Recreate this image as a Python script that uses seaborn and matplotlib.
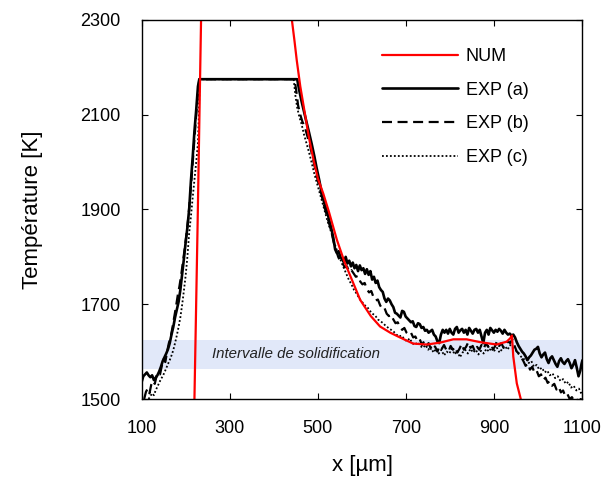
import matplotlib
matplotlib.use("Agg")
import matplotlib.pyplot as plt
import seaborn as sns

# --- data ---
# numerical curve, two branches (both leave the frame at the top)
num_left_x = [220, 227, 235]
num_left_T = [1500, 1860, 2300]
num_right_x = [441, 447, 452, 460, 470, 480, 490, 500, 512, 525, 543, 560, 580, 596,
               620, 641, 664, 686, 716, 747, 777, 807, 837, 868, 905, 928, 936, 940,
               943, 951, 960]
num_right_T = [2300, 2255, 2215, 2160, 2105, 2050, 2005, 1965, 1934, 1895, 1836, 1790,
               1745, 1709, 1675, 1653, 1640, 1630, 1617, 1615, 1619, 1626, 1626, 1620,
               1615, 1621, 1628, 1634, 1590, 1533, 1500]

# EXP (a)
exp_a_x = [100, 104, 108, 112, 116, 120, 124, 128, 132, 136, 140, 144, 148, 152, 156,
           160, 164, 168, 172, 176, 180, 184, 188, 192, 196, 200, 204, 208, 212, 216,
           220, 224, 228, 231,
           453, 458, 463, 468, 474, 480, 486, 492, 497, 503, 508, 514, 520, 525, 530,
           535, 539, 543, 547, 551, 555, 559, 563, 567, 571, 575, 579, 583, 587, 591,
           595, 599, 603, 607, 611, 615, 619, 623, 627, 631, 635, 639, 643, 647, 651,
           655, 659, 663, 667, 671, 675, 679, 683, 687, 691, 695, 699, 703, 707, 711,
           715, 719, 723, 727, 731, 735, 739, 743, 747, 751, 755, 759, 763, 767, 771,
           775, 779, 783, 787, 791, 795, 799, 803, 807, 811, 815, 819, 823, 827, 831,
           835, 839, 843, 847, 851, 855, 859, 863, 867, 871, 875, 879, 883, 887, 891,
           895, 899, 903, 907, 911, 915, 919, 923, 927, 931, 935, 939, 943, 947, 951,
           955, 959, 963, 967, 971, 975, 979, 983, 987, 991, 995, 999, 1003, 1007, 1011,
           1015, 1019, 1023, 1027, 1031, 1035, 1039, 1043, 1047, 1051, 1055, 1059, 1063,
           1067, 1071, 1075, 1079, 1083, 1087, 1091, 1095, 1098, 1100]
exp_a_T = [1535, 1548, 1552, 1556, 1550, 1546, 1550, 1540, 1545, 1550, 1558, 1568, 1580,
           1588, 1596, 1605, 1618, 1636, 1652, 1672, 1688, 1705, 1730, 1762, 1795, 1830,
           1862, 1900, 1960, 2010, 2065, 2110, 2160, 2175,
           2175, 2150, 2128, 2108, 2085, 2062, 2038, 2012, 1988, 1962, 1938, 1915, 1898,
           1880, 1862, 1840, 1816, 1808, 1812, 1800, 1795, 1788, 1800, 1786, 1792, 1780,
           1788, 1776, 1783, 1770, 1782, 1772, 1776, 1764, 1774, 1762, 1770, 1752, 1758,
           1745, 1750, 1736, 1730, 1726, 1712, 1705, 1712, 1708, 1700, 1694, 1682, 1680,
           1676, 1672, 1686, 1684, 1674, 1670, 1666, 1662, 1664, 1654, 1652, 1660, 1658,
           1650, 1652, 1644, 1646, 1640, 1643, 1646, 1636, 1632, 1622, 1618, 1636, 1646,
           1640, 1646, 1638, 1648, 1640, 1636, 1648, 1652, 1640, 1645, 1648, 1640, 1646,
           1636, 1650, 1644, 1638, 1646, 1648, 1640, 1646, 1632, 1618, 1640, 1646, 1636,
           1650, 1645, 1640, 1646, 1642, 1648, 1644, 1638, 1646, 1640, 1636, 1638, 1634,
           1636, 1630, 1620, 1612, 1606, 1600, 1596, 1590, 1582, 1588, 1592, 1598, 1604,
           1606, 1610, 1596, 1588, 1594, 1598, 1584, 1576, 1586, 1590, 1582, 1574, 1568,
           1580, 1586, 1578, 1574, 1580, 1584, 1576, 1565, 1572, 1582, 1566, 1548, 1560,
           1575, 1582]

# EXP (b)
exp_b_x = [106, 110, 114, 118, 122, 126, 130, 134, 138, 142, 146, 150, 154, 158, 162,
           166, 170, 174, 178, 182, 186, 190, 194, 198, 202, 206, 210, 214, 218, 222,
           226, 231,
           447, 451, 455, 460, 465, 470, 476, 482, 488, 494, 500, 506, 512, 518, 524,
           530, 536, 541, 546, 551, 556, 561, 566, 571, 576, 581, 586, 591, 596, 601,
           606, 611, 616, 621, 626, 631, 636, 641, 646, 651, 656, 661, 666, 671, 676,
           681, 686, 691, 696, 701, 706, 711, 716, 721, 726, 731, 736, 741, 746, 751,
           756, 761, 766, 771, 776, 781, 786, 791, 796, 801, 806, 811, 816, 821, 826,
           831, 836, 841, 846, 851, 856, 861, 866, 871, 876, 881, 886, 891, 896, 901,
           906, 911, 916, 921, 926, 931, 936, 941, 946, 951, 956, 961, 966, 971, 976,
           981, 986, 991, 996, 1001, 1006, 1011, 1016, 1021, 1026, 1031, 1036, 1041,
           1046, 1051, 1056, 1061, 1066, 1071, 1076, 1081, 1086, 1091, 1096, 1100]
exp_b_T = [1500, 1515, 1522, 1512, 1530, 1538, 1532, 1548, 1556, 1552, 1570, 1584, 1578,
           1600, 1618, 1630, 1650, 1672, 1694, 1718, 1738, 1762, 1790, 1818, 1848, 1882,
           1925, 1972, 2025, 2075, 2125, 2175,
           2175, 2150, 2120, 2100, 2085, 2075, 2055, 2035, 2010, 1985, 1960, 1940, 1915,
           1895, 1875, 1855, 1830, 1815, 1800, 1790, 1786, 1778, 1780, 1768, 1772, 1765,
           1758, 1760, 1748, 1742, 1745, 1732, 1725, 1728, 1715, 1708, 1710, 1698, 1690,
           1692, 1680, 1675, 1678, 1668, 1660, 1662, 1652, 1646, 1650, 1640, 1636, 1640,
           1630, 1632, 1622, 1626, 1614, 1622, 1612, 1618, 1606, 1614, 1610, 1600, 1612,
           1606, 1614, 1604, 1600, 1612, 1604, 1610, 1598, 1606, 1616, 1604, 1610, 1620,
           1608, 1612, 1600, 1610, 1604, 1614, 1606, 1618, 1610, 1614, 1604, 1610, 1622,
           1612, 1618, 1608, 1614, 1622, 1618, 1626, 1612, 1600, 1596, 1588, 1580, 1570,
           1575, 1562, 1568, 1556, 1560, 1548, 1552, 1540, 1545, 1534, 1538, 1528, 1532,
           1520, 1526, 1514, 1518, 1506, 1510, 1500, 1504, 1496, 1500, 1494, 1500, 1496]

# EXP (c)
exp_c_x = [116, 120, 124, 128, 132, 136, 140, 144, 148, 152, 156, 160, 164, 168, 172,
           176, 180, 184, 188, 192, 196, 200, 204, 208, 212, 216, 220, 224, 228, 230,
           232,
           445, 449, 453, 458, 463, 468, 474, 480, 486, 492, 498, 504, 510, 516, 522,
           528, 534, 540, 546, 552, 558, 564, 570, 576, 582, 588, 594, 600, 606, 612,
           618, 624, 630, 636, 642, 648, 654, 660, 666, 672, 678, 684, 690, 696, 702,
           708, 714, 720, 726, 732, 738, 744, 750, 756, 762, 768, 774, 780, 786, 792,
           798, 804, 810, 816, 822, 828, 834, 840, 846, 852, 858, 864, 870, 876, 882,
           888, 894, 900, 906, 912, 918, 924, 930, 936, 942, 948, 954, 960, 966, 972,
           978, 984, 990, 996, 1002, 1008, 1014, 1020, 1026, 1032, 1038, 1044, 1050,
           1056, 1062, 1068, 1074, 1080, 1086, 1092, 1098, 1100]
exp_c_T = [1500, 1506, 1512, 1508, 1518, 1526, 1534, 1542, 1548, 1556, 1565, 1574, 1582,
           1592, 1603, 1618, 1634, 1652, 1672, 1698, 1728, 1760, 1800, 1850, 1885, 1925,
           1962, 2000, 2040, 2100, 2175,
           2175, 2140, 2115, 2095, 2080, 2060, 2040, 2020, 1998, 1975, 1955, 1935, 1915,
           1895, 1875, 1858, 1840, 1822, 1806, 1792, 1778, 1765, 1752, 1742, 1730, 1722,
           1712, 1705, 1698, 1694, 1686, 1680, 1676, 1668, 1664, 1660, 1654, 1650, 1646,
           1642, 1636, 1632, 1634, 1626, 1622, 1628, 1618, 1614, 1620, 1612, 1608, 1614,
           1604, 1610, 1598, 1606, 1596, 1604, 1592, 1600, 1596, 1606, 1594, 1602, 1588,
           1598, 1604, 1596, 1606, 1598, 1604, 1594, 1602, 1596, 1606, 1600, 1610, 1602,
           1608, 1598, 1606, 1612, 1604, 1614, 1608, 1604, 1596, 1590, 1584, 1586, 1576,
           1580, 1568, 1572, 1562, 1566, 1556, 1560, 1550, 1554, 1544, 1548, 1538, 1542,
           1532, 1536, 1524, 1528, 1518, 1522, 1510, 1514]

# solidification interval
solidus, liquidus = 1563, 1625

# --- style ---
sns.set_style("ticks")
plt.rcParams.update({
    "font.family": ["Liberation Sans", "DejaVu Sans"],
    "text.color": "black",
    "axes.labelcolor": "black",
    "xtick.color": "black",
    "ytick.color": "black",
    "xtick.direction": "in",
    "ytick.direction": "in",
    "xtick.top": True,
    "ytick.right": True,
    "xtick.major.size": 4.5,
    "ytick.major.size": 4.5,
    "axes.linewidth": 1.0,
    "axes.edgecolor": "black",
})

fig = plt.figure(figsize=(6.03, 4.84), dpi=100)
ax = fig.add_axes([0.2347, 0.1756, 0.7313, 0.7831])

ax.axhspan(solidus, liquidus, color="#e1e8f9", lw=0, zorder=0)
ax.text(260, (solidus + liquidus) / 2, "Intervalle de solidification",
        style="italic", fontsize=10.8, va="center", ha="left", color="#222222")

sns.lineplot(x=exp_c_x, y=exp_c_T, ax=ax, color="black", lw=1.3, sort=False,
             estimator=None, linestyle=(0, (1, 1.2)), label="EXP (c)")
sns.lineplot(x=exp_b_x, y=exp_b_T, ax=ax, color="black", lw=1.6, sort=False,
             estimator=None, linestyle=(0, (4.5, 2.5)), label="EXP (b)")
sns.lineplot(x=exp_a_x, y=exp_a_T, ax=ax, color="black", lw=1.9, sort=False,
             estimator=None, label="EXP (a)")
sns.lineplot(x=num_left_x, y=num_left_T, ax=ax, color="#ff0000", lw=1.6, sort=False,
             estimator=None, label="NUM")
sns.lineplot(x=num_right_x, y=num_right_T, ax=ax, color="#ff0000", lw=1.6, sort=False,
             estimator=None)

ax.set_xlim(100, 1100)
ax.set_ylim(1500, 2300)
ax.set_xticks([100, 300, 500, 700, 900, 1100])
ax.set_yticks([1500, 1700, 1900, 2100, 2300])
ax.tick_params(axis="x", labelsize=13, pad=15)
ax.tick_params(axis="y", labelsize=13, pad=15)
ax.set_xlabel("x [µm]", fontsize=16, labelpad=13)
ax.set_ylabel("Température [K]", fontsize=16, labelpad=27)

handles, labels = ax.get_legend_handles_labels()
order = [labels.index(k) for k in ["NUM", "EXP (a)", "EXP (b)", "EXP (c)"]]
ax.legend([handles[i] for i in order], [labels[i] for i in order],
          loc="upper left", bbox_to_anchor=(0.545, 0.926), frameon=False,
          fontsize=13, handlelength=4.2, handletextpad=0.45, labelspacing=0.92,
          borderpad=0, borderaxespad=0)

fig.savefig("out.png", dpi=100)
